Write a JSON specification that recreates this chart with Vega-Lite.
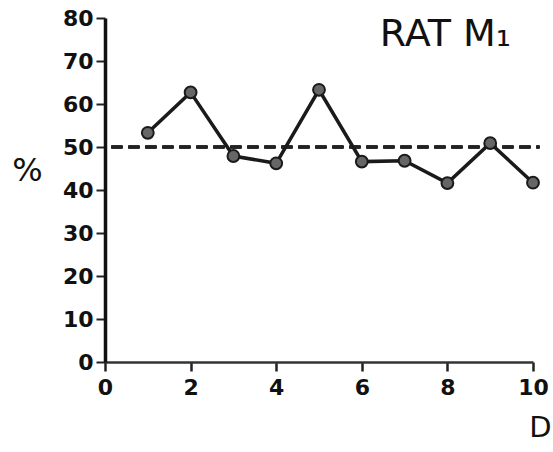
{
  "$schema": "https://vega.github.io/schema/vega-lite/v6.json",
  "autosize": "none",
  "width": 428,
  "height": 344,
  "padding": {"left": 105, "top": 18, "right": 20, "bottom": 90},
  "background": "white",
  "title": {
    "text": "RAT M₁",
    "anchor": "end",
    "frame": "group",
    "orient": "top",
    "font": "DejaVu Sans",
    "fontSize": 38,
    "fontWeight": "normal",
    "color": "#111",
    "dx": -22,
    "dy": 51
  },
  "config": {
    "view": {"stroke": null},
    "axis": {
      "labelFont": "DejaVu Sans",
      "labelFontWeight": "bold",
      "labelFontSize": 22,
      "labelColor": "#111",
      "titleFont": "DejaVu Sans",
      "titleColor": "#111",
      "grid": false
    }
  },
  "data": {
    "values": [
      {"day": 1, "pct": 53.3},
      {"day": 2, "pct": 62.7},
      {"day": 3, "pct": 47.9},
      {"day": 4, "pct": 46.2},
      {"day": 5, "pct": 63.3},
      {"day": 6, "pct": 46.6},
      {"day": 7, "pct": 46.8},
      {"day": 8, "pct": 41.6},
      {"day": 9, "pct": 50.9},
      {"day": 10, "pct": 41.7}
    ]
  },
  "encoding": {
    "x": {
      "field": "day",
      "type": "quantitative",
      "scale": {"domain": [0, 10], "nice": false, "zero": true},
      "axis": {
        "values": [0, 2, 4, 6, 8, 10],
        "title": "D",
        "titleFontSize": 29,
        "titleFontWeight": "normal",
        "titleAngle": 0,
        "titleAlign": "right",
        "titleBaseline": "middle",
        "titleX": 446,
        "titleY": 65,
        "domainColor": "#333",
        "domainWidth": 2.5,
        "tickColor": "#222",
        "tickWidth": 2.5,
        "tickSize": 9,
        "labelPadding": 6,
        "labelFlush": false
      }
    },
    "y": {
      "field": "pct",
      "type": "quantitative",
      "scale": {"domain": [0, 80], "nice": false},
      "axis": {
        "values": [0, 10, 20, 30, 40, 50, 60, 70, 80],
        "title": "%",
        "titleFontSize": 32,
        "titleFontWeight": "normal",
        "titleAngle": 0,
        "titleAlign": "center",
        "titleBaseline": "middle",
        "titleX": -78,
        "titleY": 152,
        "domainColor": "#111",
        "domainWidth": 3.5,
        "tickColor": "#222",
        "tickWidth": 2,
        "tickSize": 9,
        "labelPadding": 3,
        "labelFlush": false
      }
    }
  },
  "layer": [
    {
      "mark": {"type": "rule", "strokeDash": [11, 6], "strokeWidth": 2.5, "color": "#222"},
      "encoding": {
        "x": {"datum": 0.15},
        "x2": {"datum": 10.15},
        "y": {"datum": 50}
      }
    },
    {
      "mark": {"type": "line", "color": "#1a1a1a", "strokeWidth": 3.5}
    },
    {
      "mark": {"type": "point", "filled": true, "size": 140, "color": "#666", "stroke": "#1a1a1a", "strokeWidth": 2, "opacity": 1}
    }
  ]
}
